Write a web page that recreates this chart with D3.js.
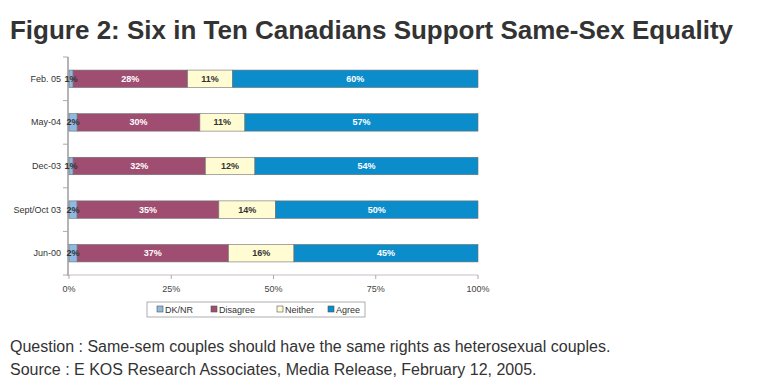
<!DOCTYPE html>
<html>
<head>
<meta charset="utf-8">
<script src="https://cdn.jsdelivr.net/npm/d3@7"></script>
<style>
  body { margin: 0; background: #fff; }
  svg { display: block; font-family: Arial, "Liberation Sans", sans-serif; }
</style>
</head>
<body>
<svg id="chart" width="758" height="392"></svg>
<script>
const categories = ['Feb. 05', 'May-04', 'Dec-03', 'Sept/Oct 03', 'Jun-00'];
const series = ['DK/NR', 'Disagree', 'Neither', 'Agree'];
const dkValues = [1, 2, 1, 2, 2];
const disagreeValues = [28, 30, 32, 35, 37];
const neitherValues = [11, 11, 12, 14, 16];
const agreeValues = [60, 57, 54, 50, 45];
const xTicks = [0, 0.25, 0.5, 0.75, 1];
const colors = ['#8fb8e2', '#9f4e71', '#fffbd2', '#0b8dcb'];
const labelColors = ['#333', '#fff', '#333', '#fff'];

const rows = categories.map((c, i) => ({
  cat: c,
  'DK/NR': dkValues[i],
  'Disagree': disagreeValues[i],
  'Neither': neitherValues[i],
  'Agree': agreeValues[i]
}));

const svg = d3.select('#chart');

svg.append('text')
  .attr('x', 10)
  .attr('y', 39)
  .attr('fill', '#333')
  .attr('textLength', 723)
  .attr('lengthAdjust', 'spacingAndGlyphs')
  .style('font-size', '25px')
  .style('font-weight', 'bold')
  .text('Figure 2: Six in Ten Canadians Support Same-Sex Equality');

const x = d3.scaleLinear().domain([0, 1]).range([69, 478]);
const y = d3.scaleBand().domain(categories).range([57, 275]).paddingInner(0.6).paddingOuter(0.3);

const stack = d3.stack().keys(series).offset(d3.stackOffsetExpand);
const layers = stack(rows);

// axes
svg.append('line')
  .attr('x1', x(0)).attr('x2', x(1))
  .attr('y1', 275).attr('y2', 275)
  .attr('stroke', '#c8bcc4').attr('stroke-width', 1);
svg.selectAll('.xtick')
  .data(xTicks)
  .enter()
  .append('line')
  .attr('x1', d => x(d)).attr('x2', d => x(d))
  .attr('y1', 275).attr('y2', 279)
  .attr('stroke', '#aaa');
svg.selectAll('.xlabel')
  .data(xTicks)
  .enter()
  .append('text')
  .attr('x', d => x(d))
  .attr('y', 292)
  .attr('text-anchor', 'middle')
  .attr('fill', '#444')
  .style('font-size', '9px')
  .text(d => d3.format('.0%')(d));

svg.append('line')
  .attr('x1', 68).attr('x2', 68)
  .attr('y1', 57).attr('y2', 276)
  .attr('stroke', '#b4b4b4').attr('stroke-width', 2);
const bandEdges = d3.range(categories.length + 1).map(i => 57 + i * (218 / categories.length));
svg.selectAll('.ytick')
  .data(bandEdges)
  .enter()
  .append('line')
  .attr('x1', 63).attr('x2', 68)
  .attr('y1', d => d).attr('y2', d => d)
  .attr('stroke', '#aaa');
svg.selectAll('.ylabel')
  .data(categories)
  .enter()
  .append('text')
  .attr('x', 61)
  .attr('y', d => y(d) + y.bandwidth() / 2 + 3)
  .attr('text-anchor', 'end')
  .attr('fill', '#333')
  .style('font-size', '9px')
  .text(d => d);

// bars
const layer = svg.selectAll('.layer')
  .data(layers)
  .enter()
  .append('g')
  .attr('fill', (d, i) => colors[i]);

layer.selectAll('rect')
  .data(d => d)
  .enter()
  .append('rect')
  .attr('x', d => x(d[0]))
  .attr('y', d => y(d.data.cat))
  .attr('width', d => x(d[1]) - x(d[0]))
  .attr('height', y.bandwidth())
  .attr('stroke', '#6f6f6f')
  .attr('stroke-width', 0.6);

layers.forEach((l, li) => {
  svg.selectAll('.lab' + li)
    .data(l)
    .enter()
    .append('text')
    .attr('x', d => (x(d[0]) + x(d[1])) / 2)
    .attr('y', d => y(d.data.cat) + y.bandwidth() / 2 + 3)
    .attr('text-anchor', 'middle')
    .attr('fill', labelColors[li])
    .style('font-size', '9px')
    .style('font-weight', 'bold')
    .text(d => d.data[l.key] + '%');
});

// legend
const legend = svg.append('g').attr('transform', 'translate(147,302)');
legend.append('rect')
  .attr('width', 218).attr('height', 15)
  .attr('fill', '#fff').attr('stroke', '#999').attr('stroke-width', 0.8);
const legendX = [10, 64, 130, 181];
const item = legend.selectAll('.item')
  .data(series)
  .enter()
  .append('g')
  .attr('transform', (d, i) => 'translate(' + legendX[i] + ',4)');
item.append('rect')
  .attr('width', 6).attr('height', 6)
  .attr('fill', (d, i) => colors[i])
  .attr('stroke', '#555').attr('stroke-width', 0.6);
item.append('text')
  .attr('x', 8).attr('y', 6.5)
  .attr('fill', '#333')
  .style('font-size', '9px')
  .text(d => d);

// footer
const notes = ['Question : Same-sem couples should have the same rights as heterosexual couples.',
  'Source : E KOS Research Associates, Media Release, February 12, 2005.'];
svg.selectAll('.note')
  .data(notes)
  .enter()
  .append('text')
  .attr('x', 10)
  .attr('y', (d, i) => 352 + i * 23)
  .attr('fill', '#333')
  .style('font-size', '16px')
  .text(d => d);
</script>
</body>
</html>
